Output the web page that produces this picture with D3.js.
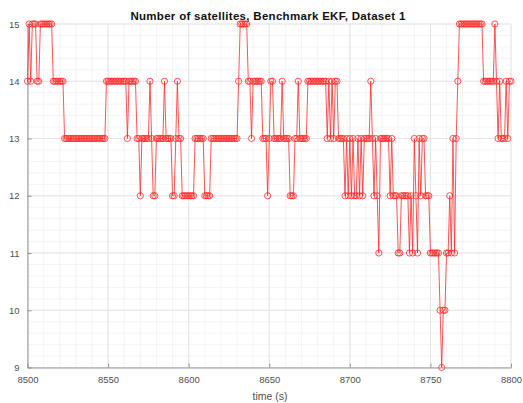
<!DOCTYPE html>
<html>
<head>
<meta charset="utf-8">
<script src="https://cdn.jsdelivr.net/npm/d3@7"></script>
<style>
  html, body { margin: 0; padding: 0; background: #fff; }
  svg { display: block; }
</style>
</head>
<body>
<svg id="chart" width="523" height="403"></svg>
<script>
// ---- data ----
const titleText = "Number of satellites, Benchmark EKF, Dataset 1";
const xLabelText = "time (s)";
const xTickValues = [8500, 8550, 8600, 8650, 8700, 8750, 8800];
const yTickValues = [9, 10, 11, 12, 13, 14, 15];
const xDomain = [8500, 8800];
const yDomain = [9, 15];
const sampleTimes = d3.range(8500, 8801, 1); // 1 Hz sampling
const satCount = [
  14,15,14,15,15,15,14,14,15,15, // 8500
  15,15,15,15,15,15,14,14,14,14, // 8510
  14,14,14,13,13,13,13,13,13,13, // 8520
  13,13,13,13,13,13,13,13,13,13, // 8530
  13,13,13,13,13,13,13,13,13,14, // 8540
  14,14,14,14,14,14,14,14,14,14, // 8550
  14,14,13,14,14,14,14,14,13,13, // 8560
  12,13,13,13,13,13,14,13,12,12, // 8570
  13,13,13,13,13,14,13,13,13,13, // 8580
  12,12,13,14,13,13,12,12,12,12, // 8590
  12,12,12,12,13,13,13,13,13,13, // 8600
  12,12,12,12,13,13,13,13,13,13, // 8610
  13,13,13,13,13,13,13,13,13,13, // 8620
  13,14,15,15,15,15,15,14,14,13, // 8630
  14,14,14,14,14,14,13,13,13,12, // 8640
  13,14,14,13,13,13,13,13,14,13, // 8650
  13,13,13,12,12,12,13,13,14,13, // 8660
  13,13,13,13,14,14,14,14,14,14, // 8670
  14,14,14,14,14,14,13,14,13,14, // 8680
  13,14,14,13,13,13,13,12,13,12, // 8690
  13,12,13,12,12,13,12,13,12,13, // 8700
  13,13,13,14,13,12,13,12,11,13, // 8710
  13,13,13,13,13,12,13,12,12,12, // 8720
  11,11,12,12,12,12,12,11,12,11, // 8730
  13,12,11,13,12,13,13,12,12,12, // 8740
  11,11,11,11,11,11,10,9,10,10,  // 8750
  11,11,12,11,13,11,13,14,15,15, // 8760
  15,15,15,15,15,15,15,15,15,15, // 8770
  15,15,15,14,14,14,14,14,14,14, // 8780
  15,14,13,14,13,13,13,14,13,14, // 8790
  14                             // 8800
];
const points = sampleTimes.map((t, i) => ({ t, v: satCount[i] }));

// ---- layout ----
const svg = d3.select("#chart");
const plot = { left: 27.5, right: 511, top: 24, bottom: 367.5 };
const x = d3.scaleLinear().domain(xDomain).range([plot.left, plot.right]);
const y = d3.scaleLinear().domain(yDomain).range([plot.bottom, plot.top]);
const font = "'Liberation Sans', Arial, Helvetica, sans-serif";

// minor grid
const xMinor = d3.range(xDomain[0], xDomain[1] + 0.001, 10);
const yMinor = d3.range(yDomain[0], yDomain[1] + 0.001, 0.2);
const grid = svg.append("g");
grid.selectAll(".xm").data(xMinor).enter().append("line")
  .attr("x1", d => x(d)).attr("x2", d => x(d))
  .attr("y1", plot.top).attr("y2", plot.bottom)
  .attr("stroke", "#f1f1f1").attr("stroke-width", 0.8);
grid.selectAll(".ym").data(yMinor).enter().append("line")
  .attr("y1", d => y(d)).attr("y2", d => y(d))
  .attr("x1", plot.left).attr("x2", plot.right)
  .attr("stroke", "#f1f1f1").attr("stroke-width", 0.8);
// major grid
grid.selectAll(".xM").data(xTickValues).enter().append("line")
  .attr("x1", d => x(d)).attr("x2", d => x(d))
  .attr("y1", plot.top).attr("y2", plot.bottom)
  .attr("stroke", "#e2e2e2").attr("stroke-width", 0.9);
grid.selectAll(".yM").data(yTickValues).enter().append("line")
  .attr("y1", d => y(d)).attr("y2", d => y(d))
  .attr("x1", plot.left).attr("x2", plot.right)
  .attr("stroke", "#e2e2e2").attr("stroke-width", 0.9);

// axes
const xAxis = d3.axisBottom(x).tickValues(xTickValues).tickFormat(d3.format("d"))
  .tickSizeInner(-4).tickSizeOuter(0).tickPadding(9);
const yAxis = d3.axisLeft(y).tickValues(yTickValues).tickFormat(d3.format("d"))
  .tickSizeInner(-4).tickSizeOuter(0).tickPadding(8);
const gx = svg.append("g").attr("transform", `translate(0,${plot.bottom})`).call(xAxis);
const gy = svg.append("g").attr("transform", `translate(${plot.left},0)`).call(yAxis);
[gx, gy].forEach(g => {
  g.select(".domain").attr("stroke", "#8a8a8a").attr("stroke-width", 0.9);
  g.selectAll(".tick line").attr("stroke", "#8a8a8a").attr("stroke-width", 0.9);
  g.selectAll(".tick text").attr("fill", "#505050")
    .style("font-family", font).style("font-size", "9.5px");
});

// data line + markers
const line = d3.line().x(d => x(d.t)).y(d => y(d.v));
svg.append("path").datum(points)
  .attr("d", line).attr("fill", "none")
  .attr("stroke", "#ff2a2a").attr("stroke-width", 0.8);
svg.append("g").selectAll("circle").data(points).enter().append("circle")
  .attr("cx", d => x(d.t)).attr("cy", d => y(d.v)).attr("r", 3.1)
  .attr("fill", "none").attr("stroke", "#ff2a2a").attr("stroke-width", 0.8);

// title & label
svg.append("text").attr("x", 268).attr("y", 19.5)
  .attr("text-anchor", "middle").attr("fill", "#111")
  .style("font-family", font).style("font-size", "11.5px").style("font-weight", "bold")
  .style("letter-spacing", "0.3px")
  .text(titleText);
svg.append("text").attr("x", 270).attr("y", 400)
  .attr("text-anchor", "middle").attr("fill", "#505050")
  .style("font-family", font).style("font-size", "10.5px")
  .text(xLabelText);
</script>
</body>
</html>
